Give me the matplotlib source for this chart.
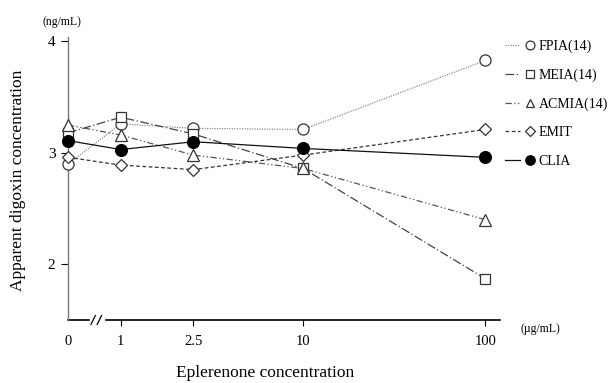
import numpy as np
import matplotlib
matplotlib.use("Agg")
import matplotlib.pyplot as plt
from matplotlib.lines import Line2D
from matplotlib.legend_handler import HandlerTuple

plt.rcParams['font.family'] = ['Liberation Serif', 'DejaVu Serif']

# data
conc = [0, 1, 2.5, 10, 100]
conc_labels = ["0", "1", "2.5", "10", "100"]
fpia = [2.90, 3.26, 3.22, 3.21, 3.83]
meia = [3.18, 3.32, 3.17, 2.86, 1.87]
acmia = [3.25, 3.16, 2.98, 2.86, 2.40]
emit = [2.96, 2.89, 2.85, 2.98, 3.21]
clia = [3.11, 3.03, 3.10, 3.04, 2.96]
names = ["FPIA(14)", "MEIA(14)", "ACMIA(14)", "EMIT", "CLIA"]

# x axis is log10 with 0 put left of the break
zero_pos = -0.29
xpos = [zero_pos if c == 0 else np.log10(c) for c in conc]

styles = [
    dict(ls=(0, (1, 1)), color="#8c8c8c", marker="o", mfc="white", mec="#333333"),
    dict(ls=(0, (7, 2, 1, 2)), color="#444444", marker="s", mfc="white", mec="#333333"),
    dict(ls=(0, (5, 2, 1, 2, 1, 2)), color="#555555", marker="^", mfc="white", mec="#333333"),
    dict(ls=(0, (3, 2)), color="#333333", marker="D", mfc="white", mec="#333333"),
    dict(ls="-", color="#111111", marker="o", mfc="black", mec="black"),
]
msizes = [8, 7.5, 8, 6, 8.5]

fig = plt.figure(figsize=(6.08, 3.83), dpi=100)
ax = fig.add_axes([68/608, 1-320/383, (500-68)/608, (320-37)/383])

handles = []
for ys, st, ms, nm in zip([fpia, meia, acmia, emit, clia], styles, msizes, names):
    ax.plot(xpos, ys, lw=0.9, ls=st["ls"], color=st["color"], marker=st["marker"],
            ms=ms, mfc=st["mfc"], mec=st["mec"], mew=0.9, clip_on=False, zorder=3)
    h_line = Line2D([], [], lw=0.9, ls=st["ls"], color=st["color"])
    h_mark = Line2D([], [], ls="none", marker=st["marker"], ms=ms*0.8, mfc=st["mfc"],
                    mec=st["mec"], mew=0.9)
    handles.append((h_line, h_mark))

xlo, xhi = zero_pos, 2.08
ax.set_xlim(xlo, xhi)
ax.set_ylim(1.5, 4.04)

for s in ["top", "right", "bottom"]:
    ax.spines[s].set_visible(False)
ax.spines["left"].set_color("#777777")
ax.spines["left"].set_linewidth(1.0)

ax.set_yticks([2, 3, 4])
ax.set_yticklabels(["2", "3", "4"], fontsize=11)
ax.tick_params(axis="y", direction="out", length=5, width=0.8, pad=4)

ax.set_xticks(xpos)
ax.set_xticklabels(conc_labels, fontsize=10.5)
ax.tick_params(axis="x", direction="out", length=4, width=0.8, pad=7)
ax.get_xticklines()[0].set_visible(False)

# bottom axis with a break
gap_lo, gap_hi = -0.175, -0.082
ax.plot([xlo, gap_lo], [1.5, 1.5], color="black", lw=1.2, clip_on=False)
ax.plot([gap_hi, xhi], [1.5, 1.5], color="black", lw=1.2, clip_on=False)
for dx in [-0.152, -0.118]:
    ax.plot([dx - 0.012, dx + 0.012], [1.46, 1.54], color="black", lw=0.9, clip_on=False)

# units and axis labels
fig.text(62/608, 1-22/383, "(ng/mL)", fontsize=8.5, ha="center", va="center")
fig.text(540/608, 1-329/383, "(\u00b5g/mL)", fontsize=8.5, ha="center", va="center")
fig.text(18/608, 1-180/383, "Apparent digoxin concentration", fontsize=12.5,
         rotation=90, ha="center", va="center")
fig.text(265/608, 1-373/383, "Eplerenone concentration", fontsize=12.5,
         ha="center", va="center")

ax.legend(handles, names, handler_map={tuple: HandlerTuple(ndivide=None, pad=0.2)},
          loc="upper left", bbox_to_anchor=(505/608, 1-40/383),
          bbox_transform=fig.transFigure, frameon=False, fontsize=10,
          handlelength=2.3, handletextpad=0.12, labelspacing=1.1, borderaxespad=0,
          borderpad=0)

fig.savefig("out.png", dpi=100)
